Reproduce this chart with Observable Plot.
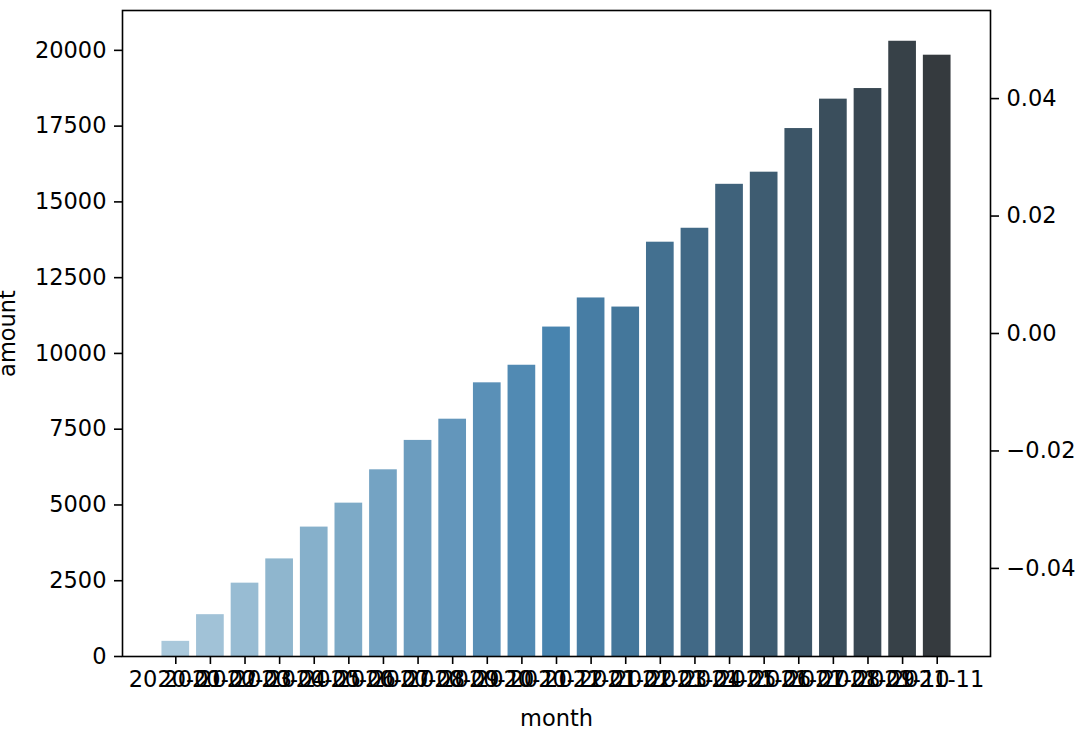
<!DOCTYPE html>
<html>
<head>
<meta charset="utf-8">
<script src="https://cdn.jsdelivr.net/npm/d3@7"></script>
<script src="https://cdn.jsdelivr.net/npm/@observablehq/plot@0.6"></script>
<style>
  html, body { margin: 0; padding: 0; background: #fff; }
  #chart { position: relative; width: 1088px; height: 733px; overflow: hidden; }
  #chart svg { position: absolute; left: 0; top: 0; }
</style>
</head>
<body>
<div id="chart"></div>
<script>
// ---- data ----
const months = [
  "2020-01","2020-02","2020-03","2020-04","2020-05","2020-06","2020-07","2020-08",
  "2020-09","2020-10","2020-11","2020-12","2021-01","2021-02","2021-03","2021-04",
  "2021-05","2021-06","2021-07","2021-08","2021-09","2021-10","2021-11"
];
const amounts = [
  500, 1380, 2420, 3220, 4270, 5060, 6160, 7130,
  7830, 9030, 9610, 10870, 11830, 11530, 13670, 14130,
  15580, 15980, 17420, 18390, 18740, 20300, 19840
];
const yTicks = [0, 2500, 5000, 7500, 10000, 12500, 15000, 17500, 20000];
const rightTicks = [-0.04, -0.02, 0, 0.02, 0.04];
const rightDomain = [-0.055, 0.055];
// seaborn "Blues_d" anchors (Blues at 1/3, Blues at 2/3, #333333)
const paletteAnchors = ["#abd0e6", "#3787c0", "#333333"];
const saturation = 0.75;

// ---- colours ----
const n = months.length;
const blend = d3.piecewise(d3.interpolateRgb, paletteAnchors);
const barColors = months.map((m, i) => {
  const c = d3.hsl(blend((i + 1) / (n + 1)));
  c.s *= saturation;
  return c.formatHex();
});
const data = months.map((month, i) => ({ month, amount: amounts[i], color: barColors[i] }));

// ---- layout ----
const W = 1088, H = 733;
const margins = { marginLeft: 122, marginRight: 98, marginTop: 10, marginBottom: 77 };
const font = { fontFamily: "'DejaVu Sans', sans-serif", fontSize: "22.5px", color: "black" };

const main = Plot.plot({
  width: W, height: H, ...margins,
  style: { ...font, background: "white" },
  x: { type: "band", domain: months, paddingInner: 0.2, paddingOuter: 1.14, align: 0.5, round: false },
  y: { domain: [0, d3.max(amounts) * 1.05] },
  marks: [
    Plot.barY(data, { x: "month", y: "amount", fill: "color" }),
    Plot.axisX({ tickSize: 8, tickPadding: 7, strokeWidth: 1.6, label: null }),
    Plot.axisY(yTicks, { tickFormat: d3.format("d"), tickSize: 8, tickPadding: 8, strokeWidth: 1.6, label: null }),
    Plot.frame({ stroke: "black", strokeWidth: 1.6 }),
    Plot.text(["month"], { text: d => d, frameAnchor: "bottom", textAnchor: "middle", lineAnchor: "bottom", dy: 69, fill: "black" }),
    Plot.text(["amount"], { text: d => d, frameAnchor: "left", textAnchor: "middle", lineAnchor: "bottom", rotate: -90, dx: -107.5, fill: "black" })
  ]
});

const right = Plot.plot({
  width: W, height: H, ...margins,
  style: { ...font, background: "transparent" },
  y: { domain: rightDomain },
  marks: [
    Plot.axisY(rightTicks, { anchor: "right", tickFormat: d3.format(".2f"), tickSize: 8, tickPadding: 8, strokeWidth: 1.6, label: null })
  ]
});

const chart = document.getElementById("chart");
chart.appendChild(main);
chart.appendChild(right);
</script>
</body>
</html>
